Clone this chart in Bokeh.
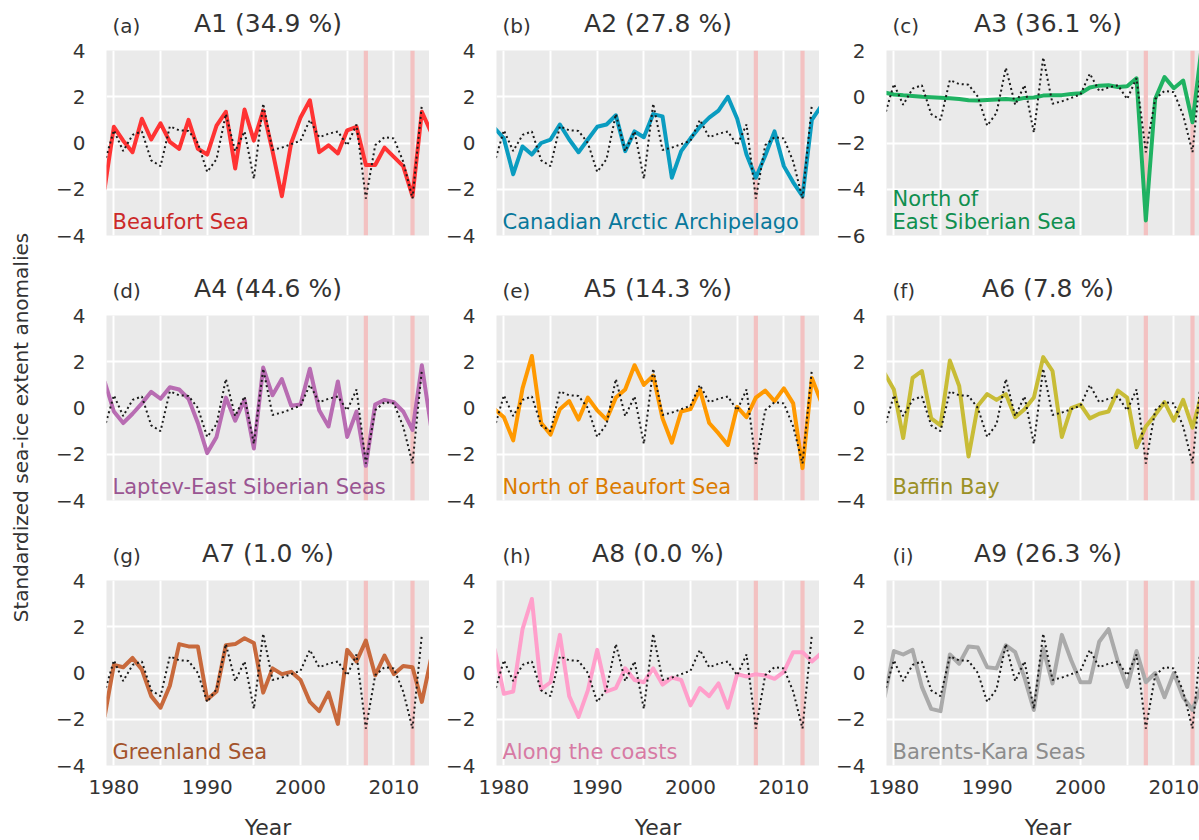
import math
from bokeh.plotting import figure
from bokeh.models import Range1d, FixedTicker, Label
from bokeh.core.properties import value
from bokeh.layouts import column, row
from bokeh.embed import file_html
from bokeh.resources import INLINE

# ---------------- data ----------------
years = list(range(1979, 2015))
total_years = list(range(1979, 2014))
total = [-0.85, 0.55, -0.35, 0.35, 0.5, -0.75, -1.0, 0.72, 0.55, 0.52, 0.0, -1.25,
         -0.7, 1.25, -0.35, 0.5, -1.55, 1.7, -0.3, -0.2, -0.05, 0.1, 1.0, 0.25,
         0.4, 0.5, -0.1, 0.8, -2.4, -0.1, 0.25, 0.2, -0.8, -2.4, 1.65]

beaufort = [-2.0, 0.7, 0.1, -0.4, 1.05, 0.15, 0.85, 0.05, -0.25, 1.0, -0.25, -0.5,
            0.75, 1.35, -1.1, 1.45, 0.1, 1.4, -0.35, -2.3, 0.0, 1.1, 1.85, -0.4,
            -0.1, -0.45, 0.55, 0.7, -0.95, -0.95, -0.2, -0.6, -1.0, -2.3, 1.35, 0.45]
caa = [0.65, 0.2, -1.35, -0.15, -0.5, 0.0, 0.15, 0.8, 0.15, -0.4, 0.15, 0.7,
       0.8, 1.2, -0.35, 0.5, 0.25, 1.25, 1.15, -1.5, -0.35, 0.2, 0.7, 1.1,
       1.4, 2.0, 1.05, -0.5, -1.5, -0.55, 0.5, -1.0, -1.7, -2.3, 1.0, 1.6]
n_esib = [0.18, 0.1, 0.06, 0.03, 0.0, -0.02, -0.04, -0.06, -0.1, -0.15, -0.16, -0.14,
          -0.12, -0.1, -0.13, -0.05, -0.03, 0.05, 0.07, 0.07, 0.12, 0.15, 0.4, 0.48,
          0.5, 0.42, 0.45, 0.8, -5.35, -0.1, 0.85, 0.37, 0.7, -1.1, 2.2, 1.0]
laptev = [1.15, -0.15, -0.65, -0.25, 0.2, 0.7, 0.4, 0.9, 0.8, 0.4, -0.65, -1.95,
          -1.25, 0.45, -0.55, 0.35, -1.75, 1.75, 0.55, 1.25, 0.1, 0.15, 1.7, -0.1,
          -0.8, 1.15, -1.25, -0.15, -2.5, 0.15, 0.35, 0.25, -0.15, -0.95, 1.85, -0.85]
n_beau = [-0.05, -0.4, -1.4, 0.85, 2.25, -0.65, -1.15, -0.05, 0.3, -0.5, 0.45, -0.1,
          -0.5, 0.45, 0.8, 1.85, 1.0, 1.4, -0.45, -1.5, -0.15, -0.05, 0.8, -0.65,
          -1.1, -1.6, 0.05, -0.4, 0.45, 0.75, 0.3, 0.85, 0.2, -2.6, 1.3, 0.25]
baffin = [1.5, 0.8, -1.3, 1.3, 1.6, -0.45, -0.75, 2.05, 0.95, -2.1, 0.1, 0.6,
          0.35, 0.6, -0.4, -0.05, 0.45, 2.2, 1.6, -1.25, 0.0, 0.15, -0.45, -0.25,
          -0.15, 0.75, 0.45, -1.7, -0.8, -0.3, 0.25, -0.55, 0.35, -0.85, 0.6, 0.3]
greenland = [-1.9, 0.35, 0.25, 0.65, 0.15, -1.0, -1.5, -0.55, 1.25, 1.15, 1.15, -1.15,
             -0.8, 1.2, 1.25, 1.5, 1.3, -0.85, 0.2, -0.05, 0.05, -0.3, -1.25, -1.65,
             -0.85, -2.2, 1.0, 0.5, 1.4, -0.1, 0.75, -0.05, 0.3, 0.25, -1.25, 0.65]
coasts = [1.05, -0.9, -0.8, 1.9, 3.2, -0.7, -0.4, 1.65, -1.0, -1.9, -0.75, 1.0,
          -0.8, -0.65, 0.2, -0.3, -0.4, 0.2, -0.5, -0.2, -0.3, -1.4, -0.65, -1.0,
          -0.45, -1.5, -0.05, -0.15, -0.05, -0.1, -0.25, 0.05, 0.9, 0.9, 0.5, 0.85]
barents = [-1.05, 0.95, 0.8, 1.0, -0.6, -1.55, -1.65, 0.8, 0.4, 1.15, 1.1, 0.25,
           0.2, 1.2, 0.9, -0.2, -1.6, 1.05, -0.45, 1.65, 0.55, -0.4, -0.4, 1.35,
           1.9, 0.5, -0.6, 0.95, -0.4, 0.0, -1.05, 0.0, -1.05, -1.6, -0.5, 0.0]

event_years = [2007, 2012]
letters = ["(a)", "(b)", "(c)", "(d)", "(e)", "(f)", "(g)", "(h)", "(i)"]
titles = ["A1 (34.9 %)", "A2 (27.8 %)", "A3 (36.1 %)", "A4 (44.6 %)", "A5 (14.3 %)",
          "A6 (7.8 %)", "A7 (1.0 %)", "A8 (0.0 %)", "A9 (26.3 %)"]
region_names = [["Beaufort Sea"], ["Canadian Arctic Archipelago"],
                ["North of", "East Siberian Sea"], ["Laptev-East Siberian Seas"],
                ["North of Beaufort Sea"], ["Baffin Bay"], ["Greenland Sea"],
                ["Along the coasts"], ["Barents-Kara Seas"]]
series = [beaufort, caa, n_esib, laptev, n_beau, baffin, greenland, coasts, barents]
y_limits = [(-4, 4), (-4, 4), (-6, 2), (-4, 4), (-4, 4), (-4, 4), (-4, 4), (-4, 4), (-4, 4)]
line_colors = ["#ff3333", "#0a9cc0", "#1fb262", "#b86cb2", "#ff9900", "#c8bc36",
               "#c8693c", "#ff9fcb", "#aaaaaa"]
text_colors = ["#cc2929", "#08789c", "#0f8f4f", "#9a5592", "#db7b00", "#9a9025",
               "#a3532b", "#d77aa4", "#8c8c8c"]
x_grid_ticks = [1980, 1985, 1990, 1995, 2000, 2005, 2010]
x_label_ticks = [1980, 1990, 2000, 2010]
x_label = "Year"
y_label = "Standardized sea-ice extent anomalies"

# ---------------- layout constants ----------------
FONT = "DejaVu Sans"
TXT = "#333333"
STRIP_W = 40                      # left strip holding the shared y label
FW, FH = 323, 185                 # frame size of a full panel
FW_LAST = 313                     # last column is cut at the window edge
LEFT_B = [66, 67, 67]             # left borders per column
COL_W = [LEFT_B[0] + FW, LEFT_B[1] + FW, LEFT_B[2] + FW_LAST]
MAIN_W = sum(COL_W)
TOP_B = 12                        # room for the top tick label
BOT_B = [12, 12, 40]              # room for the bottom tick label / x tick labels
HEAD_H = [38, 56, 56]
YEAR_H = 35
TOTAL_H = sum(HEAD_H) + 3 * (FH + TOP_B) + sum(BOT_B) + YEAR_H


def bare_fig(w, h):
    f = figure(width=w, height=h, x_range=Range1d(0, w), y_range=Range1d(0, h),
               output_backend="svg", toolbar_location=None, title=None,
               min_border=0, min_border_left=0, min_border_right=0,
               min_border_top=0, min_border_bottom=0)
    f.axis.visible = False
    f.grid.visible = False
    f.outline_line_color = None
    f.background_fill_color = "white"
    f.border_fill_color = "white"
    return f


def col_left(c):
    return sum(COL_W[:c]) + LEFT_B[c]


def header(r):
    h = HEAD_H[r]
    f = bare_fig(MAIN_W, h)
    idx = [3 * r + c for c in range(3)]
    f.text(x=[col_left(c) + 6 for c in range(3)], y=[12.6] * 3,
           text=[letters[i] for i in idx], text_font=value(FONT),
           text_font_size="20px", text_color=TXT, text_baseline="middle", text_align="left")
    f.text(x=[col_left(c) + FW / 2 for c in range(3)], y=[15.2] * 3,
           text=[titles[i] for i in idx], text_font=value(FONT),
           text_font_size="25px", text_color=TXT, text_baseline="middle", text_align="center")
    return f


def make_panel(i):
    r, c = divmod(i, 3)
    ylo, yhi = y_limits[i]
    fw = FW if c < 2 else FW_LAST
    x_end = 2013.82 if c < 2 else 2012.75
    p = figure(frame_width=fw, frame_height=FH,
               x_range=Range1d(1979.21, x_end), y_range=Range1d(ylo, yhi),
               output_backend="svg", toolbar_location=None, title=None,
               min_border_left=LEFT_B[c], min_border_right=0,
               min_border_top=TOP_B, min_border_bottom=BOT_B[r])
    p.background_fill_color = "#eaeaea"
    p.border_fill_color = "white"
    p.outline_line_color = None

    yticks = list(range(ylo, yhi + 1, 2))
    p.yaxis.ticker = FixedTicker(ticks=yticks)
    p.yaxis.major_label_overrides = {t: ("\u2212%d" % (-t) if t < 0 else str(t)) for t in yticks}
    p.xaxis.ticker = FixedTicker(ticks=x_label_ticks)
    p.xgrid.ticker = FixedTicker(ticks=x_grid_ticks)
    p.ygrid.ticker = FixedTicker(ticks=yticks)
    for g in (p.xgrid, p.ygrid):
        g.grid_line_color = "white"
        g.grid_line_width = 2

    for ax in p.axis:
        ax.axis_line_color = None
        ax.major_tick_line_color = None
        ax.minor_tick_line_color = None
        ax.major_tick_out = 0
        ax.major_tick_in = 0
        ax.major_label_text_font = FONT
        ax.major_label_text_font_size = "20px"
        ax.major_label_text_color = TXT
    p.yaxis.major_label_standoff = 21
    p.xaxis.major_label_standoff = 14
    if r < 2:
        p.xaxis.visible = False

    # event bands
    p.vbar(x=event_years, width=0.45, bottom=ylo, top=yhi, color="#f3c1c1", line_color=None)
    # regional series
    p.line(years, series[i], line_width=4, color=line_colors[i], line_join="round")
    # total series (dotted)
    p.line(total_years, total, line_width=2, color="#1a1a1a", line_dash="2 3")

    names = region_names[i]
    for k, nm in enumerate(names):
        p.add_layout(Label(x=6, y=2 + 23 * (len(names) - 1 - k), x_units="screen", y_units="screen",
                           text=nm, text_font=FONT, text_font_size="21px",
                           text_color=text_colors[i], text_baseline="bottom",
                           text_align="left"))
    return p


# left strip with the shared y label
strip = bare_fig(STRIP_W, TOTAL_H)
strip.text(x=[20], y=[TOTAL_H - 427], text=[y_label], angle=math.pi / 2,
           text_font=value(FONT), text_font_size="20px", text_color=TXT,
           text_baseline="middle", text_align="center")

# bottom strip with the x labels
year_strip = bare_fig(MAIN_W, YEAR_H)
year_strip.text(x=[col_left(c) + FW / 2 for c in range(3)], y=[13.2] * 3, text=[x_label] * 3,
                text_font=value(FONT), text_font_size="22px", text_color=TXT,
                text_baseline="middle", text_align="center")

panels = [make_panel(i) for i in range(9)]
main = column(header(0), row(*panels[0:3]),
              header(1), row(*panels[3:6]),
              header(2), row(*panels[6:9]),
              year_strip)
layout = row(strip, main)

open("out.html", "w").write(file_html(layout, INLINE))
